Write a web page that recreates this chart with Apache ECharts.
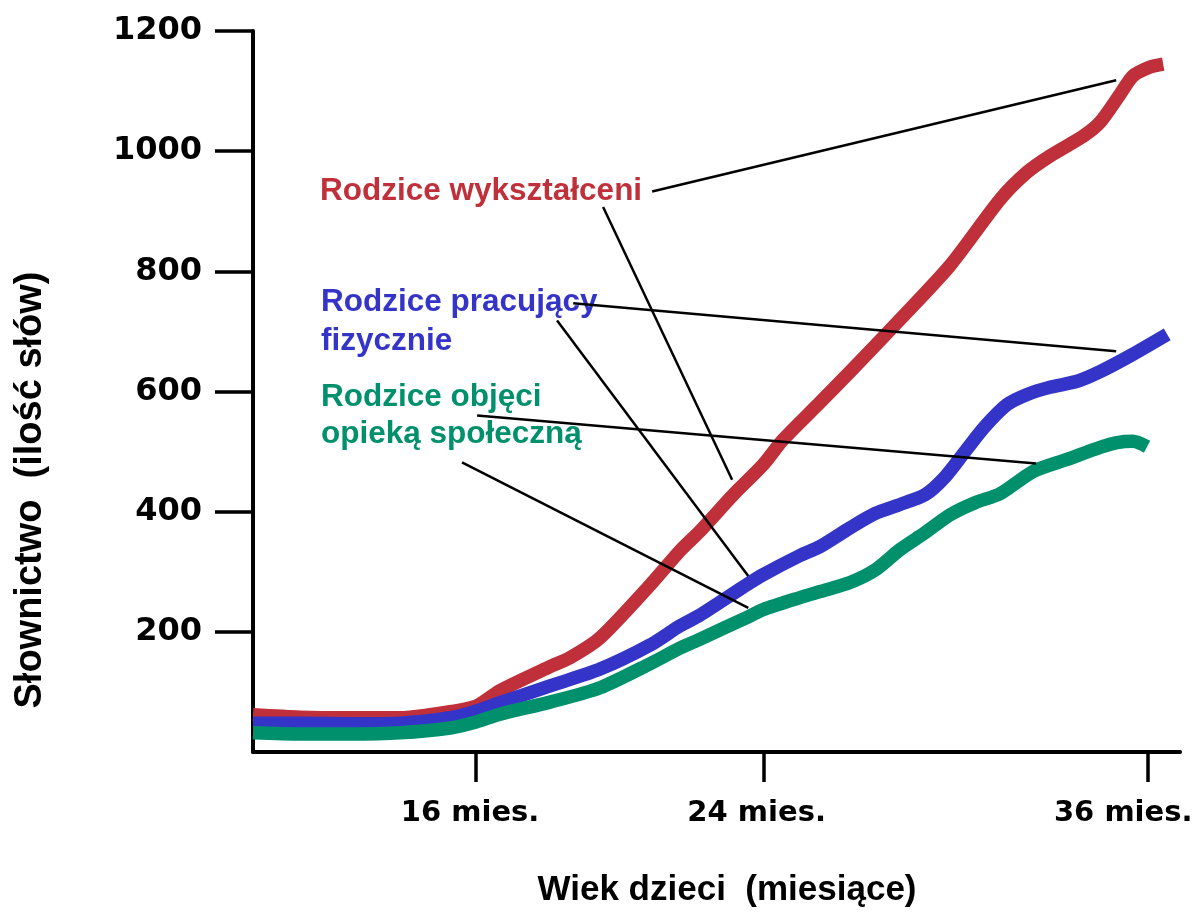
<!DOCTYPE html>
<html>
<head>
<meta charset="utf-8">
<title>Słownictwo dzieci</title>
<script src="https://cdn.jsdelivr.net/npm/echarts@6.0.0/dist/echarts.min.js"></script>
<style>
  html, body { margin: 0; padding: 0; background: #fff; }
  #chart { width: 1197px; height: 918px; }
</style>
</head>
<body>
<div id="chart"></div>
<script>
// wiek w miesiącach (oś liniowa), słownictwo w liczbie słów
const redMonths = [9.36, 10.76, 12.25, 13.74, 14.63, 15.23, 16.0, 16.71, 18.2, 18.8, 19.69, 21.18, 22.07, 22.67, 23.65, 24.54, 25.14, 26.24, 27.13, 28.62, 30.11, 31.6, 32.4, 33.08, 34.07, 34.57, 35.17, 35.55, 36.06, 36.45];
const redValues = [62, 58, 57, 57, 62, 67, 76, 102, 142, 157, 190, 278, 335, 368, 428, 478, 520, 582, 633, 720, 810, 920, 965, 992, 1025, 1048, 1095, 1125, 1140, 1145];

const blueMonths = [9.36, 10.76, 12.25, 13.74, 15.23, 16.0, 16.71, 18.2, 19.69, 21.18, 22.07, 22.67, 24.1, 24.54, 25.64, 26.24, 27.13, 27.88, 28.62, 29.36, 29.96, 30.55, 31.15, 31.8, 32.4, 33.08, 33.89, 34.57, 35.55, 36.57];
const blueValues = [48, 48, 47, 48, 57, 68, 82, 110, 138, 178, 210, 228, 280, 295, 327, 342, 373, 397, 412, 428, 458, 500, 542, 578, 595, 607, 617, 633, 662, 695];

const greenMonths = [9.36, 10.76, 12.25, 13.74, 15.23, 16.0, 16.71, 18.2, 19.69, 21.18, 22.07, 22.67, 24.1, 24.54, 25.64, 26.24, 27.13, 27.88, 28.62, 29.36, 30.11, 30.85, 31.6, 32.58, 33.59, 34.57, 35.08, 35.55, 35.97];
const greenValues = [32, 30, 30, 32, 40, 50, 63, 83, 107, 147, 173, 188, 225, 237, 257, 267, 282, 303, 337, 365, 395, 415, 430, 467, 487, 507, 515, 517, 508];

const xTickValues = [16, 24.55, 36];
const xLabelValues = [15.82, 24.35, 35.26];
const xTickLabels = ['16 mies.', '24 mies.', '36 mies.'];
const yTickValues = [200, 400, 600, 800, 1000, 1200];

// linie odnośników: [od, do] we współrzędnych danych
const pointerLines = [
  [[21.24, 933], [35.05, 1118]],
  [[19.78, 907], [23.62, 453]],
  [[18.89, 747], [35.05, 667]],
  [[18.41, 718], [24.1, 293]],
  [[16.03, 560], [32.67, 480]],
  [[15.58, 482], [24.1, 240]]
];

const RED = '#c0303a';
const BLUE = '#3434c9';
const GREEN = '#00906c';
const TITLE_FONT = '"Liberation Sans", Arial, sans-serif';
const TICK_FONT = '"DejaVu Sans", Verdana, sans-serif';

const zip = (xs, ys) => xs.map((x, i) => [x, ys[i]]);

const chart = echarts.init(document.getElementById('chart'));

function curve(name, color, months, values) {
  return {
    name,
    type: 'line',
    data: zip(months, values),
    smooth: 0.25,
    showSymbol: false,
    silent: true,
    lineStyle: { color, width: 13.5, cap: 'butt', join: 'round' }
  };
}

const series = [
  curve('Rodzice wykształceni', RED, redMonths, redValues),
  curve('Rodzice pracujący fizycznie', BLUE, blueMonths, blueValues),
  curve('Rodzice objęci opieką społeczną', GREEN, greenMonths, greenValues)
];

series[2].markLine = {
  silent: true,
  symbol: 'none',
  z: 10,
  label: { show: false },
  lineStyle: { color: '#000', width: 2.5, type: 'solid' },
  data: pointerLines.map(([a, b]) => [{ coord: a }, { coord: b }])
};

function label(text, color, x, y, size) {
  return {
    type: 'text',
    x,
    y,
    style: {
      text,
      fill: color,
      font: `bold ${size}px ${TITLE_FONT}`,
      align: 'left',
      verticalAlign: 'middle'
    }
  };
}

const option = {
  animation: false,
  backgroundColor: '#fff',
  grid: { left: 253, right: 17, top: 31, bottom: 166, outerBoundsMode: 'none', containLabel: false },
  xAxis: {
    type: 'value',
    min: 9.36,
    max: 36.95,
    axisLine: { lineStyle: { color: '#000', width: 4 } },
    axisTick: {
      customValues: xTickValues,
      length: 30,
      lineStyle: { color: '#000', width: 3.5 }
    },
    axisLabel: {
      customValues: xLabelValues,
      margin: 47,
      color: '#000',
      fontFamily: TICK_FONT,
      fontWeight: 'bold',
      fontSize: 29,
      formatter: (v) => xTickLabels[xLabelValues.indexOf(v)]
    },
    splitLine: { show: false }
  },
  yAxis: {
    type: 'value',
    min: 0,
    max: 1200,
    axisLine: { show: true, lineStyle: { color: '#000', width: 4 } },
    axisTick: {
      show: true,
      customValues: yTickValues,
      length: 38,
      lineStyle: { color: '#000', width: 3.5 }
    },
    axisLabel: {
      customValues: yTickValues,
      margin: 51,
      color: '#000',
      fontFamily: TICK_FONT,
      fontWeight: 'bold',
      fontSize: 32,
      formatter: (v) => String(v)
    },
    splitLine: { show: false }
  },
  graphic: [
    {
      type: 'text',
      x: 31,
      y: 490,
      rotation: Math.PI / 2,
      style: {
        text: 'Słownictwo  (ilość słów)',
        fill: '#000',
        font: `bold 38px ${TITLE_FONT}`,
        align: 'center',
        verticalAlign: 'middle'
      }
    },
    {
      type: 'text',
      x: 727,
      y: 890,
      style: {
        text: 'Wiek dzieci  (miesiące)',
        fill: '#000',
        font: `bold 35px ${TITLE_FONT}`,
        align: 'center',
        verticalAlign: 'middle'
      }
    },
    label('Rodzice wykształceni', RED, 320, 191, 31.5),
    label('Rodzice pracujący', BLUE, 321, 302, 31.5),
    label('fizycznie', BLUE, 321, 341, 31.5),
    label('Rodzice objęci', GREEN, 321, 397, 31.5),
    label('opieką społeczną', GREEN, 321, 434, 31.5)
  ],
  series
};

chart.setOption(option);
</script>
</body>
</html>
